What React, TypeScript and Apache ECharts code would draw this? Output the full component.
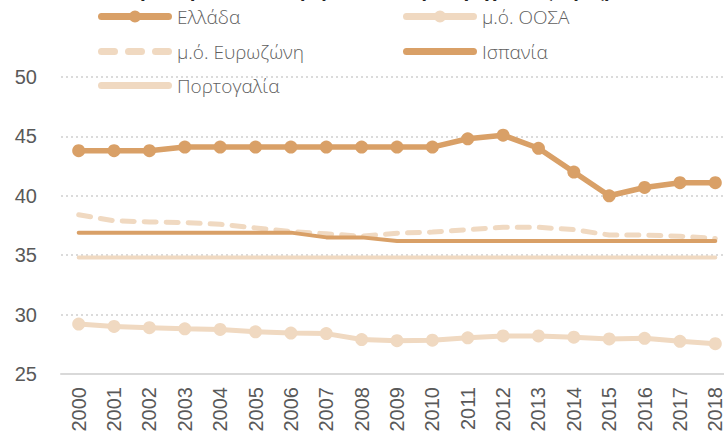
import React, { useEffect, useRef } from "react";
import * as echarts from "echarts";

const years = ["2000","2001","2002","2003","2004","2005","2006","2007","2008","2009","2010","2011","2012","2013","2014","2015","2016","2017","2018"];
const greece = [43.8, 43.8, 43.8, 44.1, 44.1, 44.1, 44.1, 44.1, 44.1, 44.1, 44.1, 44.8, 45.1, 44.0, 42.0, 40.0, 40.7, 41.1, 41.1];
const oecd = [29.2, 29.0, 28.9, 28.8, 28.75, 28.55, 28.45, 28.4, 27.9, 27.8, 27.85, 28.05, 28.2, 28.2, 28.1, 27.95, 28.0, 27.75, 27.55];
const eurozone = [38.4, 37.9, 37.8, 37.75, 37.6, 37.3, 37.0, 36.8, 36.6, 36.85, 36.95, 37.15, 37.35, 37.35, 37.15, 36.7, 36.7, 36.6, 36.4];
const spain = [36.9, 36.9, 36.9, 36.9, 36.9, 36.9, 36.9, 36.5, 36.5, 36.2, 36.2, 36.2, 36.2, 36.2, 36.2, 36.2, 36.2, 36.2, 36.2];
const portugal = [34.8, 34.8, 34.8, 34.8, 34.8, 34.8, 34.8, 34.8, 34.8, 34.8, 34.8, 34.8, 34.8, 34.8, 34.8, 34.8, 34.8, 34.8, 34.8];

const names = ["Ελλάδα", "μ.ό. ΟΟΣΑ", "μ.ό. Ευρωζώνη", "Ισπανία", "Πορτογαλία"];
const titleText = "Φορολογικά έσοδα (%) του ΑΕΠ (σε τρέχουσες τιμές)";

const DARK = "#D9A067";
const LIGHT = "#F0D9C1";

const BAR = "M3.5,2.5 L70.5,2.5 A3.5,3.5 0 0 1 70.5,9.5 L3.5,9.5 A3.5,3.5 0 0 1 3.5,2.5 Z";
const DOT = "M31,6 A6,6 0 0 1 43,6 A6,6 0 0 1 31,6 Z";
const FRAME = "M0,0 L0.01,0 Z M74,12 L73.99,12 Z";
const ICON_DOT = "path://" + BAR + " " + DOT + " " + FRAME;
const ICON_BAR = "path://" + BAR + " " + FRAME;
const ICON_DASH =
  "path://M3.5,2.5 L16.5,2.5 A3.5,3.5 0 0 1 16.5,9.5 L3.5,9.5 A3.5,3.5 0 0 1 3.5,2.5 Z " +
  "M30.5,2.5 L43.5,2.5 A3.5,3.5 0 0 1 43.5,9.5 L30.5,9.5 A3.5,3.5 0 0 1 30.5,2.5 Z " +
  "M57.5,2.5 L70.5,2.5 A3.5,3.5 0 0 1 70.5,9.5 L57.5,9.5 A3.5,3.5 0 0 1 57.5,2.5 Z " + FRAME;

export default function App() {
  const ref = useRef<HTMLDivElement>(null);
  useEffect(() => {
    if (!ref.current) return;
    const chart = echarts.init(ref.current, null, { renderer: "svg" });
    const legendText = { fontSize: 19, color: "#5f5f5f", fontFamily: "Open Sans", fontWeight: 300 };
    const mkLegend = (name: string, icon: string, left: number, top: number) => ({
      data: [{ name, icon }],
      left,
      top,
      padding: 0,
      itemWidth: 74,
      itemHeight: 12,
      itemGap: 6,
      textStyle: legendText,
      selectedMode: false,
    });
    chart.setOption({
      animation: false,
      backgroundColor: "#ffffff",
      graphic: [
        {
          type: "text",
          left: "center",
          top: -20,
          style: {
            text: titleText,
            fontSize: 20,
            fontWeight: "bold",
            fill: "#222222",
            fontFamily: "Liberation Sans",
          },
        },
      ],
      legend: [
        mkLegend(names[0], ICON_DOT, 98, 7),
        mkLegend(names[1], ICON_DOT, 403, 7),
        mkLegend(names[2], ICON_DASH, 98, 42),
        mkLegend(names[3], ICON_BAR, 403, 42),
        mkLegend(names[4], ICON_BAR, 98, 76),
      ],
      grid: { left: 61, right: -9, top: 77, bottom: 61, outerBoundsMode: "none", containLabel: false },
      xAxis: {
        type: "category",
        data: years,
        boundaryGap: true,
        axisLine: { show: true, lineStyle: { color: "#d9d9d9", width: 2 } },
        axisTick: { show: false },
        axisLabel: { rotate: 90, fontSize: 20, color: "#595959", margin: 13, fontFamily: "Liberation Sans", interval: 0 },
      },
      yAxis: {
        type: "value",
        min: 25,
        max: 50,
        interval: 5,
        axisLine: { show: false },
        axisTick: { show: false },
        axisLabel: { fontSize: 20, color: "#595959", margin: 24, fontFamily: "Liberation Sans" },
        splitLine: { show: true, lineStyle: { color: "#cfcfcf", width: 1.5, type: [2, 3] } },
      },
      series: [
        {
          name: names[4], type: "line", data: portugal, showSymbol: false, symbol: "none",
          lineStyle: { color: LIGHT, width: 4, cap: "round" }, itemStyle: { color: LIGHT }, z: 1,
        },
        {
          name: names[3], type: "line", data: spain, showSymbol: false, symbol: "none",
          lineStyle: { color: DARK, width: 4, cap: "round" }, itemStyle: { color: DARK }, z: 3,
        },
        {
          name: names[2], type: "line", data: eurozone, showSymbol: false, symbol: "none",
          lineStyle: { color: LIGHT, width: 5, type: [12, 10], cap: "round" }, itemStyle: { color: LIGHT }, z: 2,
        },
        {
          name: names[1], type: "line", data: oecd, symbol: "circle", symbolSize: 13,
          lineStyle: { color: LIGHT, width: 5 }, itemStyle: { color: LIGHT }, z: 2,
        },
        {
          name: names[0], type: "line", data: greece, symbol: "circle", symbolSize: 13,
          lineStyle: { color: DARK, width: 5.5 }, itemStyle: { color: DARK }, z: 4,
        },
      ],
    });
    return () => chart.dispose();
  }, []);
  return <div ref={ref} style={{ width: 724, height: 435, position: "absolute", left: 0, top: 0 }} />;
}
